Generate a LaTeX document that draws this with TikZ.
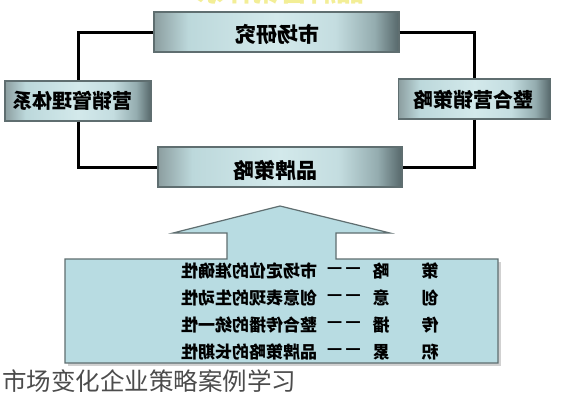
\documentclass[tikz,border=0pt]{standalone}
\usepackage{fontspec}
\usepackage{graphicx}
\newfontfamily\cjk{Noto Sans CJK SC}
\definecolor{boxA}{HTML}{8C9EA0}
\definecolor{boxB}{HTML}{BCD8DB}
\definecolor{boxC}{HTML}{D3E9EB}
\definecolor{boxD}{HTML}{C4DDE0}
\definecolor{boxE}{HTML}{94ACAF}
\definecolor{boxF}{HTML}{56676A}
\definecolor{panel}{HTML}{B8DCE2}
\definecolor{panelline}{HTML}{5F6E70}
\definecolor{titleyellow}{HTML}{F3EE96}
\pgfdeclarehorizontalshading{boxshade}{100bp}{color(0bp)=(boxA); color(25bp)=(boxA); color(32bp)=(boxB); color(50bp)=(boxC); color(62bp)=(boxD); color(70bp)=(boxE); color(75bp)=(boxF); color(100bp)=(boxF)}
\newcommand{\mirr}[1]{\scalebox{-1}[1]{#1}}
\tikzset{
  x=1pt, y=-1pt,
  gbox/.style={draw=panelline, line width=1.2pt, shading=boxshade, minimum height=40pt, inner sep=0pt, font=\cjk\bfseries\fontsize{20}{22}\selectfont},
  link/.style={line width=3pt, black},
  rowtxt/.style={inner sep=0pt, font=\cjk\bfseries\fontsize{17}{19}\selectfont},
}
\begin{document}
\begin{tikzpicture}
\useasboundingbox (0,0) rectangle (581,400);
\fill[white] (0,0) rectangle (581,400);
% clipped yellow title (only its lower edge shows)
\node[inner sep=0pt, text=titleyellow, font=\cjk\bfseries\fontsize{28}{30}\selectfont] (title) at (280,-9) {\mirr{品牌营销体系}};
% boxes
\node[gbox, minimum width=245pt] (top) at (276.5,32) {};
\node[gbox, minimum width=146pt] (left) at (78,101) {};
\node[gbox, minimum width=152pt] (right) at (474.5,99) {};
\node[gbox, minimum width=244pt] (bot) at (280,167) {};
\node[inner sep=0pt, font=\cjk\bfseries\fontsize{21}{23}\selectfont] (ttop) at (277,34) {\mirr{市场研究}};
\node[inner sep=0pt, font=\cjk\bfseries\fontsize{20}{22}\selectfont] (tleft) at (73,101) {\mirr{营销管理体系}};
\node[inner sep=0pt, font=\cjk\bfseries\fontsize{20}{22}\selectfont] (tright) at (473,100) {\mirr{整合营销策略}};
\node[inner sep=0pt, font=\cjk\bfseries\fontsize{21}{23}\selectfont] (tbot) at (275,170) {\mirr{品牌策略}};
% loop connectors
\draw[link] (top.west) -| (left.north);
\draw[link] (left.south) |- (bot.west);
\draw[link] (top.east) -| (right.north);
\draw[link] (right.south) |- (bot.east);
% panel with arrow (shadow first)
\fill[black!18] (68,262) -- (501,262) -- (501,366) -- (68,366) -- cycle;
\draw[panelline, line width=1.2pt, fill=panel]
  (65,259) -- (227,259) -- (227,233) -- (173,233) -- (280,206) -- (390,233) -- (336,233) -- (336,259) -- (498,259) -- (498,363) -- (65,363) -- cycle;
% rows
\foreach \y/\a/\b/\t [count=\i] in {271/策/略/市场定位的准确性, 298/创/意/创意表现的生动性, 325/传/播/整合传播的统一性, 352/积/累/品牌策略的长期性}{
  \node[rowtxt] (ra\i) at (430,\y) {\mirr{\a}};
  \node[rowtxt] (rb\i) at (381,\y) {\mirr{\b}};
  \node[rowtxt] (rd\i) at (344,\y) {—\hspace{3pt}—};
  \node[rowtxt] (rt\i) at (249,\y) {\mirr{\t}};
}
% caption
\node[anchor=west, inner sep=0pt, text=black!70, font=\cjk\fontsize{24.5}{26}\selectfont] (cap) at (2,381) {市场变化企业策略案例学习};
\end{tikzpicture}
\end{document}
